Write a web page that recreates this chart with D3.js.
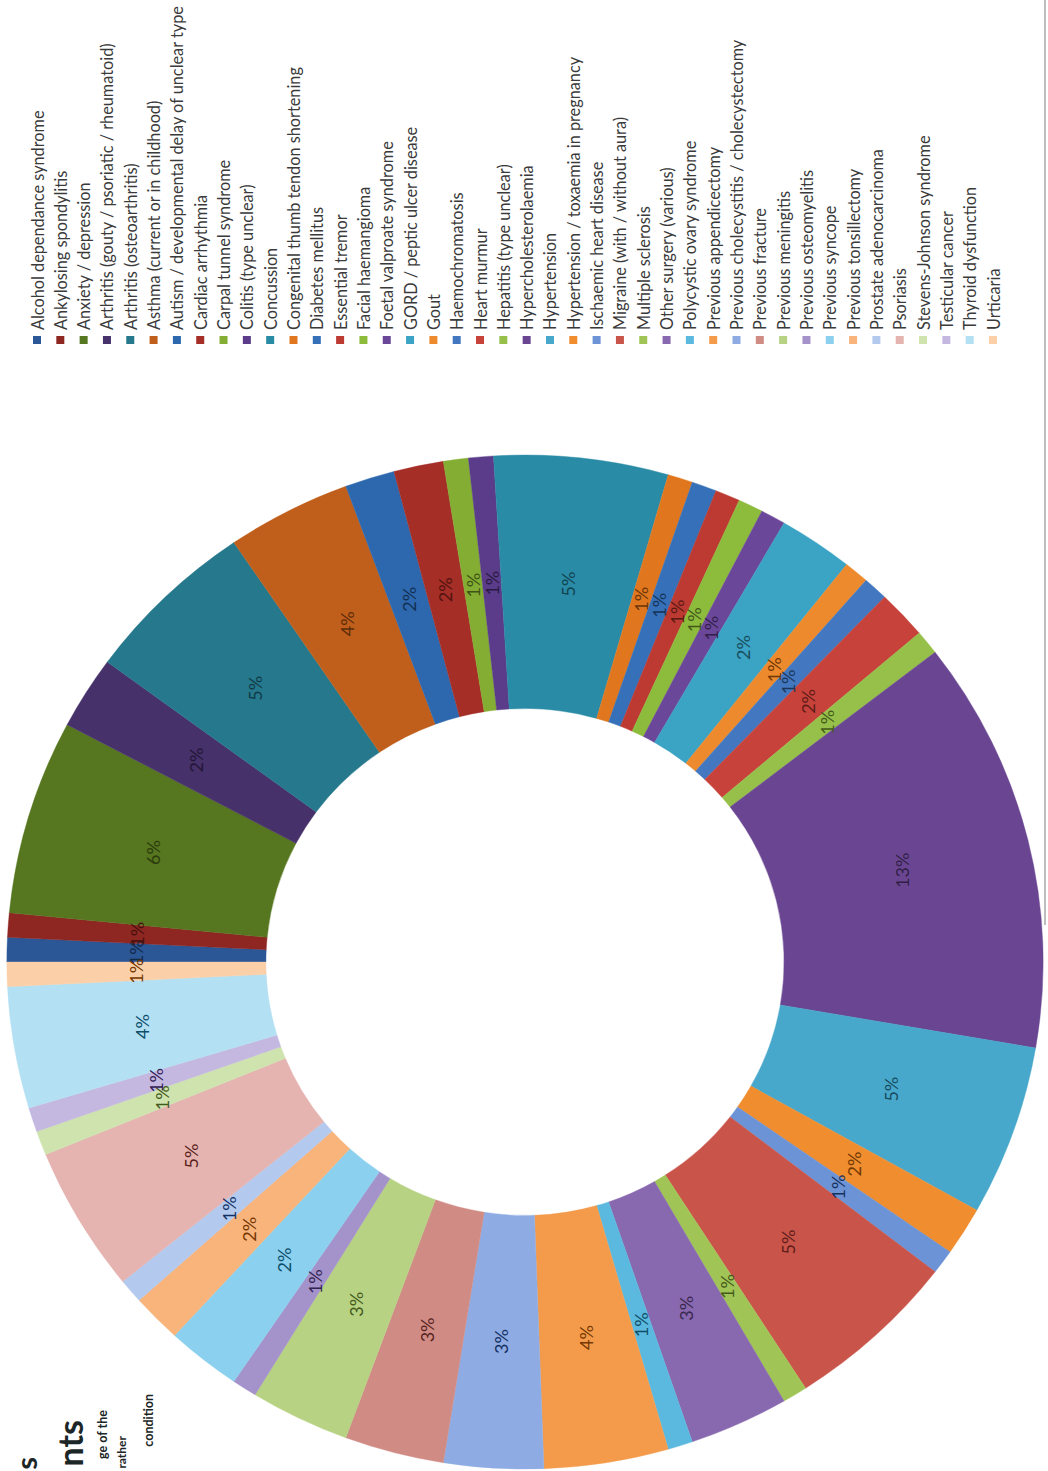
<!DOCTYPE html>
<html>
<head>
<meta charset="utf-8">
<script src="https://cdn.jsdelivr.net/npm/d3@7"></script>
<style>
  html, body { margin: 0; padding: 0; background: #fff; }
  svg { display: block; }
</style>
</head>
<body>
<svg id="chart" width="1048" height="1471"></svg>
<script>
const categories = [
  "Alcohol dependance syndrome",
  "Ankylosing spondylitis",
  "Anxiety / depression",
  "Arthritis (gouty / psoriatic / rheumatoid)",
  "Arthritis (osteoarthritis)",
  "Asthma (current or in childhood)",
  "Autism / developmental delay of unclear type",
  "Cardiac arrhythmia",
  "Carpal tunnel syndrome",
  "Colitis (type unclear)",
  "Concussion",
  "Congenital thumb tendon shortening",
  "Diabetes mellitus",
  "Essential tremor",
  "Facial haemangioma",
  "Foetal valproate syndrome",
  "GORD / peptic ulcer disease",
  "Gout",
  "Haemochromatosis",
  "Heart murmur",
  "Hepatitis (type unclear)",
  "Hypercholesterolaemia",
  "Hypertension",
  "Hypertension / toxaemia in pregnancy",
  "Ischaemic heart disease",
  "Migraine (with / without aura)",
  "Multiple sclerosis",
  "Other surgery (various)",
  "Polycystic ovary syndrome",
  "Previous appendicectomy",
  "Previous cholecystitis / cholecystectomy",
  "Previous fracture",
  "Previous meningitis",
  "Previous osteomyelitis",
  "Previous syncope",
  "Previous tonsillectomy",
  "Prostate adenocarcinoma",
  "Psoriasis",
  "Stevens-Johnson syndrome",
  "Testicular cancer",
  "Thyroid dysfunction",
  "Urticaria"
];

const counts = [
  1, 1, 8, 3, 7, 5, 2, 2, 1, 1,
  7, 1, 1, 1, 1, 1, 3, 1, 1, 2,
  1, 17, 7, 2, 1, 7, 1, 4, 1, 5,
  4, 4, 4, 1, 3, 2, 1, 6, 1, 1,
  5, 1
];

const colors = [
  "#2B5797", "#8E2622", "#56761F", "#47316B", "#26788D", "#C05F1C",
  "#2D68AE", "#A52E27", "#84AE33", "#5A3C8A", "#2A8BA6", "#E0771F",
  "#3570B8", "#BC3A31", "#8DBB3C", "#6B4799", "#3BA3C3", "#EE8A2E",
  "#4378C0", "#C7423A", "#96C04A", "#6A4692", "#47A8CB", "#F08D2F",
  "#6C93D5", "#C9544A", "#A0C556", "#8868AE", "#5BB9DF", "#F49B4B",
  "#8EACE3", "#D08B85", "#B6D282", "#A492CB", "#8BD0EE", "#F8B47B",
  "#B3C9EE", "#E5B4B1", "#CFE3AF", "#C4B8E1", "#B3E0F3", "#FBD0A9"
];

const titleFragments = ["s", "nts"];
const noteFragments = ["ge of the", "rather", "condition"];

const svg = d3.select("#chart");
const FONT = "Lato, 'Open Sans', 'DejaVu Sans', sans-serif";

const data = categories.map((c, i) => ({ name: c, value: counts[i], color: colors[i] }));
const total = d3.sum(counts);
const pct = d3.format(".0%");

// Donut geometry
const cx = 525, cy = 962, R = 507, r = R * 0.5, sx = 1.022;

const pie = d3.pie().value(d => d.value).sort(null)
  .startAngle(-Math.PI / 2).endAngle(3 * Math.PI / 2);
const arcs = pie(data);
const arc = d3.arc().innerRadius(r).outerRadius(R);
const labelArc = d3.arc().innerRadius((r + R) / 2).outerRadius((r + R) / 2);

const g = svg.append("g").attr("transform", `translate(${cx},${cy}) scale(${sx},1)`);
g.selectAll("path").data(arcs).join("path")
  .attr("d", arc)
  .attr("fill", d => d.data.color)
  .attr("stroke", d => d.data.color)
  .attr("stroke-width", 0.4);

function labelColor(c) {
  const h = d3.hsl(c);
  h.l = Math.min(h.l, 0.5) * 0.42 + 0.02;
  h.s = Math.min(1, h.s * 1.1);
  return h.formatHex();
}

svg.append("g").selectAll("text").data(arcs).join("text")
  .attr("transform", d => {
    const [x, y] = labelArc.centroid(d);
    return `translate(${cx + x * sx},${cy + y}) rotate(-90)`;
  })
  .attr("text-anchor", "middle")
  .attr("dominant-baseline", "central")
  .attr("font-family", FONT)
  .attr("font-size", 18)
  .attr("fill", d => labelColor(d.data.color))
  .text(d => pct(d.data.value / total));

// Legend (rotated page: entries run left to right, text reads upward)
const lx = d3.scalePoint().domain(categories).range([37, 993]);
const legendBase = 330;
const leg = svg.append("g");
const items = leg.selectAll("g").data(data).join("g")
  .attr("transform", d => `translate(${lx(d.name)},0)`);
items.append("rect")
  .attr("x", -4).attr("y", legendBase + 6)
  .attr("width", 8).attr("height", 8)
  .attr("fill", d => d.color);
items.append("text")
  .attr("transform", `translate(0,${legendBase}) rotate(-90)`)
  .attr("text-anchor", "start")
  .attr("dominant-baseline", "central")
  .attr("font-family", FONT)
  .attr("font-size", 16.3)
  .attr("fill", "#3a3a3a")
  .text(d => d.name);

// Chart-area border fragment on the right
svg.append("line")
  .attr("x1", 1045).attr("x2", 1045).attr("y1", 0).attr("y2", 925)
  .attr("stroke", "#a8a8a8").attr("stroke-width", 1.5);

// Cropped page title / note fragments at the bottom-left
const tg = svg.append("g").attr("font-family", FONT).attr("font-weight", 700).attr("fill", "#1c2626");
tg.append("text").attr("transform", "translate(37,1457) rotate(-90)")
  .attr("text-anchor", "end").attr("font-size", 29).text(titleFragments[0]);
tg.append("text").attr("transform", "translate(83,1420) rotate(-90)")
  .attr("text-anchor", "end").attr("font-size", 34).text(titleFragments[1]);
tg.append("text").attr("transform", "translate(107,1410) rotate(-90)")
  .attr("text-anchor", "end").attr("font-size", 12.5).text(noteFragments[0]);
tg.append("text").attr("transform", "translate(126,1436) rotate(-90)")
  .attr("text-anchor", "end").attr("font-size", 12).text(noteFragments[1]);
tg.append("text").attr("transform", "translate(153,1394) rotate(-90)")
  .attr("text-anchor", "end").attr("font-size", 12.5).text(noteFragments[2]);
</script>
</body>
</html>
